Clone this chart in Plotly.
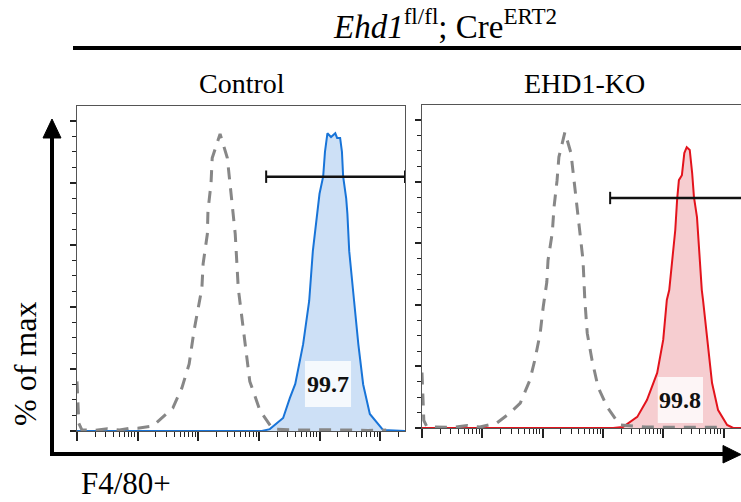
import numpy as np
import plotly.graph_objects as go

# ---- data: histogram outlines, x in log10(fluorescence), y in % of max ----
ctrl_iso_log = [0.00, 0.01, 0.03, 0.08, 0.30, 0.50, 0.70, 0.85, 1.00, 1.25, 1.58, 1.73, 1.85,
                1.93, 2.01, 2.06, 2.08, 2.15, 2.16, 2.21, 2.23, 2.36, 2.48, 2.52, 2.57,
                2.61, 2.66, 2.69, 2.76, 2.85, 3.02, 3.23, 3.60, 4.20, 4.80, 5.10]
ctrl_iso_pct = [16.0, 9.0, 2.5, 0.4, 0.2, 0.7, 0.3, 0.8, 0.9, 1.6, 7.4, 13.9, 21.6,
                32.3, 41.3, 46.1, 53.9, 63.5, 71.0, 79.7, 88.0, 95.8, 88.0, 79.7, 71.0,
                63.5, 46.0, 41.0, 29.0, 16.0, 6.5, 0.6, 0.3, 0.4, 0.2, 0.3]

ctrl_f480_log = [0.00, 3.05, 3.18, 3.40, 3.51, 3.60, 3.73, 3.83, 3.89, 3.96, 4.00, 4.06,
                 4.09, 4.13, 4.19, 4.26, 4.29, 4.34, 4.37, 4.39, 4.44, 4.46, 4.49, 4.57,
                 4.64, 4.72, 4.83, 5.05, 5.41]
ctrl_f480_pct = [0.0, 0.0, 0.6, 4.2, 10.6, 15.2, 28.0, 42.0, 58.0, 70.0, 76.5, 82.0,
                 90.0, 96.0, 94.8, 96.0, 94.5, 94.5, 90.0, 82.0, 75.0, 70.0, 58.0, 42.0,
                 28.0, 15.0, 5.5, 0.3, 0.0]

ko_iso_log = [0.00, 0.01, 0.03, 0.08, 0.30, 0.51, 0.75, 0.96, 1.24, 1.46, 1.63, 1.79,
              1.87, 1.96, 2.01, 2.07, 2.09, 2.16, 2.19, 2.24, 2.27, 2.37, 2.47, 2.52,
              2.57, 2.62, 2.67, 2.70, 2.74, 2.82, 2.92, 3.07, 3.28, 3.70, 4.30, 5.00]
ko_iso_pct = [18.0, 10.0, 2.5, 0.4, 0.3, 0.2, 0.8, 0.3, 1.6, 4.9, 8.1, 15.6,
              22.0, 30.8, 39.3, 47.4, 54.5, 63.3, 71.8, 80.5, 88.0, 96.1, 89.3, 80.5,
              71.8, 63.3, 54.5, 41.6, 30.8, 22.0, 13.3, 6.8, 1.0, 0.3, 0.3, 0.2]

ko_f480_log = [0.00, 3.17, 3.33, 3.57, 3.73, 3.90, 4.00, 4.06, 4.10, 4.16, 4.20, 4.23,
               4.26, 4.31, 4.35, 4.39, 4.44, 4.48, 4.51, 4.56, 4.59, 4.64, 4.66, 4.73,
               4.81, 4.91, 5.06, 5.16, 5.29]
ko_f480_pct = [0.0, 0.0, 0.3, 3.6, 9.1, 17.9, 28.6, 41.6, 44.8, 55.5, 64.3, 74.0,
               80.5, 82.1, 89.3, 91.2, 90.3, 82.8, 75.0, 68.5, 58.8, 44.8, 41.6, 28.6,
               14.6, 5.8, 1.0, 0.0, 0.0]

# F4/80+ gate (start in log10 units) and its height in each panel
gate_start_log = 3.12
gate_pct = {"ctrl": 82.0, "ko": 74.7}
gate_labels = {"ctrl": "99.7", "ko": "99.8"}

panel_titles = ["Control", "EHD1-KO"]
y_major = [0, 20, 40, 60, 80, 100]
y_minor = [v for v in range(5, 105, 5) if v % 20]
x_major = [0, 1, 2, 3, 4, 5]
x_minor = [k + np.log10(m) for k in range(0, 6) for m in range(2, 10)]

W, H = 741, 502
SERIF = "Liberation Serif"
BLUE, BLUE_FILL = "#1874d8", "#cde0f6"
RED, RED_FILL = "#e3131c", "#f6cdd0"
GREY = "#878787"
DASH = "12px,9px"


def px(x):
    return x / W


def py(y):
    return 1 - y / H


fig = go.Figure()

# control panel
fig.add_trace(go.Scatter(x=ctrl_f480_log, y=ctrl_f480_pct, mode="lines",
                         line=dict(color=BLUE, width=2), fill="tozeroy",
                         fillcolor=BLUE_FILL, xaxis="x", yaxis="y", hoverinfo="skip"))
fig.add_trace(go.Scatter(x=ctrl_iso_log, y=ctrl_iso_pct, mode="lines",
                         line=dict(color=GREY, width=3, dash=DASH),
                         xaxis="x", yaxis="y", hoverinfo="skip"))
# EHD1-KO panel
fig.add_trace(go.Scatter(x=ko_f480_log, y=ko_f480_pct, mode="lines",
                         line=dict(color=RED, width=2), fill="tozeroy",
                         fillcolor=RED_FILL, xaxis="x2", yaxis="y2", hoverinfo="skip"))
fig.add_trace(go.Scatter(x=ko_iso_log, y=ko_iso_pct, mode="lines",
                         line=dict(color=GREY, width=3, dash=DASH),
                         xaxis="x2", yaxis="y2", hoverinfo="skip"))

axis_common = dict(showgrid=False, zeroline=False, showticklabels=False,
                   showline=True, linecolor="#555", linewidth=1.3,
                   ticks="outside", tickcolor="#222", fixedrange=True)
xcommon = dict(axis_common, tickmode="array", tickvals=x_major, ticklen=9, tickwidth=1.6,
               minor=dict(tickmode="array", tickvals=x_minor, ticks="outside",
                          ticklen=5, tickwidth=1.2, tickcolor="#222", showgrid=False))
ycommon = dict(axis_common, tickmode="array", tickvals=y_major, ticklen=6, tickwidth=2,
               minor=dict(tickmode="array", tickvals=y_minor, ticks="outside",
                          ticklen=3.5, tickwidth=1.3, tickcolor="#222", showgrid=False))

ctrl_xmax = 5.41
ko_xmax = 5.29
fig.update_layout(
    width=W, height=H, margin=dict(l=0, r=0, t=0, b=0),
    paper_bgcolor="white", plot_bgcolor="white", showlegend=False,
    xaxis=dict(xcommon, domain=[px(77), px(405)], range=[0, ctrl_xmax], mirror=True, anchor="y"),
    yaxis=dict(ycommon, domain=[py(431), py(106)], range=[0, 104.8], mirror=True, anchor="x"),
    xaxis2=dict(xcommon, domain=[px(422), 1.0], range=[0, ko_xmax], mirror=True, anchor="y2"),
    yaxis2=dict(ycommon, domain=[py(428), py(105)], range=[0, 104.9], mirror=False, anchor="x2"),
)

shapes = []
# gate brackets
for xr, yr, key, xend, right_cap in [("x", "y", "ctrl", ctrl_xmax, True),
                                      ("x2", "y2", "ko", ko_xmax, False)]:
    g = gate_pct[key]
    shapes.append(dict(type="line", xref=xr, yref=yr, x0=gate_start_log, x1=xend,
                       y0=g, y1=g, line=dict(color="#111", width=2.5)))
    caps = [gate_start_log] + ([xend] if right_cap else [])
    for cx in caps:
        shapes.append(dict(type="line", xref=xr, yref=yr, x0=cx, x1=cx,
                           y0=g - 2.0, y1=g + 2.0, line=dict(color="#111", width=2)))

# value boxes behind gate percentages
label_boxes = {"ctrl": ("x", "y", 3.76, 4.52, 7.7, 22.6),
               "ko": ("x2", "y2", 3.91, 4.66, 1.6, 16.6)}
for key, (xr, yr, x0, x1, y0, y1) in label_boxes.items():
    shapes.append(dict(type="rect", xref=xr, yref=yr, x0=x0, x1=x1, y0=y0, y1=y1,
                       fillcolor="rgba(255,255,255,0.8)", line=dict(width=0)))
    fig.add_annotation(xref=xr, yref=yr, x=(x0 + x1) / 2, y=(y0 + y1) / 2,
                       text="<b>%s</b>" % gate_labels[key], showarrow=False,
                       font=dict(family=SERIF, size=24, color="#111"))

# header rule under the genotype
shapes.append(dict(type="line", xref="paper", yref="paper", x0=px(73), x1=1.0,
                   y0=py(48), y1=py(48), line=dict(color="black", width=4)))

# big axis arrows
shapes.append(dict(type="line", xref="paper", yref="paper", x0=px(52), x1=px(52),
                   y0=py(456), y1=py(134), line=dict(color="black", width=4)))
shapes.append(dict(type="path", xref="paper", yref="paper",
                   path="M %f,%f L %f,%f L %f,%f Z" % (px(43), py(138), px(52), py(119), px(61), py(138)),
                   fillcolor="black", line=dict(color="black", width=1)))
shapes.append(dict(type="line", xref="paper", yref="paper", x0=px(50), x1=px(726),
                   y0=py(454), y1=py(454), line=dict(color="black", width=4)))
shapes.append(dict(type="path", xref="paper", yref="paper",
                   path="M %f,%f L %f,%f L %f,%f Z" % (px(723), py(445.5), px(741), py(454.5), px(723), py(463)),
                   fillcolor="black", line=dict(color="black", width=1)))
fig.update_layout(shapes=shapes)

# text
fig.add_annotation(xref="paper", yref="paper", x=px(445), y=py(24),
                   text="<i>Ehd1</i><sup>fl/fl</sup>; Cre<sup>ERT2</sup>", showarrow=False,
                   xanchor="center", yanchor="middle", font=dict(family=SERIF, size=33, color="black"))
for title, cx in zip(panel_titles, [242, 584]):
    fig.add_annotation(xref="paper", yref="paper", x=px(cx), y=py(84), text=title,
                       showarrow=False, xanchor="center", yanchor="middle",
                       font=dict(family=SERIF, size=28, color="black"))
fig.add_annotation(xref="paper", yref="paper", x=px(25), y=py(364), text="% of max",
                   textangle=-90, showarrow=False, xanchor="center", yanchor="middle",
                   font=dict(family=SERIF, size=32, color="black"))
fig.add_annotation(xref="paper", yref="paper", x=px(79), y=py(483), text="F4/80+",
                   showarrow=False, xanchor="left", yanchor="middle",
                   font=dict(family=SERIF, size=31, color="black"))

fig.write_html("out.html")
